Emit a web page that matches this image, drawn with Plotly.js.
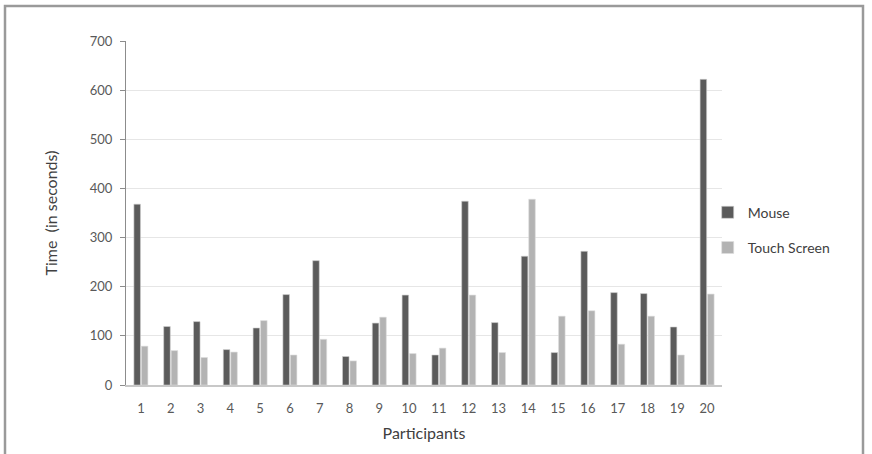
<!DOCTYPE html>
<html>
<head>
<meta charset="utf-8">
<script src="https://cdn.plot.ly/plotly-3.0.1.min.js"></script>
<style>
html,body{margin:0;padding:0;background:#fff;}
#chart{width:872px;height:454px;}
</style>
</head>
<body>
<div id="chart"></div>
<script>
const participants = ["1","2","3","4","5","6","7","8","9","10","11","12","13","14","15","16","17","18","19","20"];
const mouseTimes = [368,119,129,72,116,184,253,58,126,183,61,374,127,262,66,272,188,186,118,622];
const touchTimes = [79,70,56,67,131,61,93,49,138,64,75,183,66,378,140,151,83,140,61,185];
const yTicks = [0,100,200,300,400,500,600,700];

const fontFam = "Lato, 'Open Sans', sans-serif";
const textCol = "#595959";

const traces = [
  {type:"bar", name:"Mouse", x:participants, y:mouseTimes,
   marker:{color:"#5b5b5b", line:{color:"#cfcfcf", width:0.6}}, legendgroup:"a"},
  {type:"bar", name:"Touch Screen", x:participants, y:touchTimes,
   marker:{color:"#b3b3b3", line:{color:"#dddddd", width:0.6}}, legendgroup:"b"}
];

const layout = {
  width:872, height:454,
  margin:{l:126, r:150, t:41, b:69, pad:0},
  paper_bgcolor:"#fff", plot_bgcolor:"#fff",
  barmode:"group", bargap:0.5, bargroupgap:0.12,
  font:{family:fontFam, color:textCol, size:12},
  showlegend:true,
  legend:{x:0.976, y:0.45, xanchor:"left", yanchor:"middle",
          traceorder:"grouped", tracegroupgap:14, itemwidth:30,
          font:{family:fontFam, size:14, color:"#404040"}, bgcolor:"rgba(0,0,0,0)"},
  xaxis:{type:"category", tickvals:participants, ticktext:participants,
         showgrid:false, showline:true, linecolor:"#c8c8c8", linewidth:1.5,
         ticks:"", tickfont:{size:13, color:textCol}, ticklabelstandoff:11,
         title:{text:"Participants", font:{size:16, color:"#404040"}, standoff:12}},
  yaxis:{range:[0,700], tickvals:yTicks, ticktext:yTicks.map(String),
         showgrid:true, gridcolor:"#e6e6e6", gridwidth:1,
         showline:true, linecolor:"#8c8c8c", linewidth:1,
         ticks:"outside", ticklen:5, tickcolor:"#8c8c8c",
         zeroline:false, tickfont:{size:13, color:textCol}, ticklabelstandoff:5,
         title:{text:"Time  (in seconds)", font:{size:16, color:"#404040"}, standoff:28}},
  shapes:[
    {type:"rect", xref:"paper", yref:"paper",
     x0:(5-126)/596, x1:(863-126)/596, y0:(385-470)/344, y1:(385-6)/344,
     line:{color:"#9a9a9a", width:2.5}, fillcolor:"rgba(0,0,0,0)", layer:"below"}
  ]
};

Plotly.newPlot("chart", traces, layout, {displayModeBar:false, staticPlot:true});
</script>
</body>
</html>
